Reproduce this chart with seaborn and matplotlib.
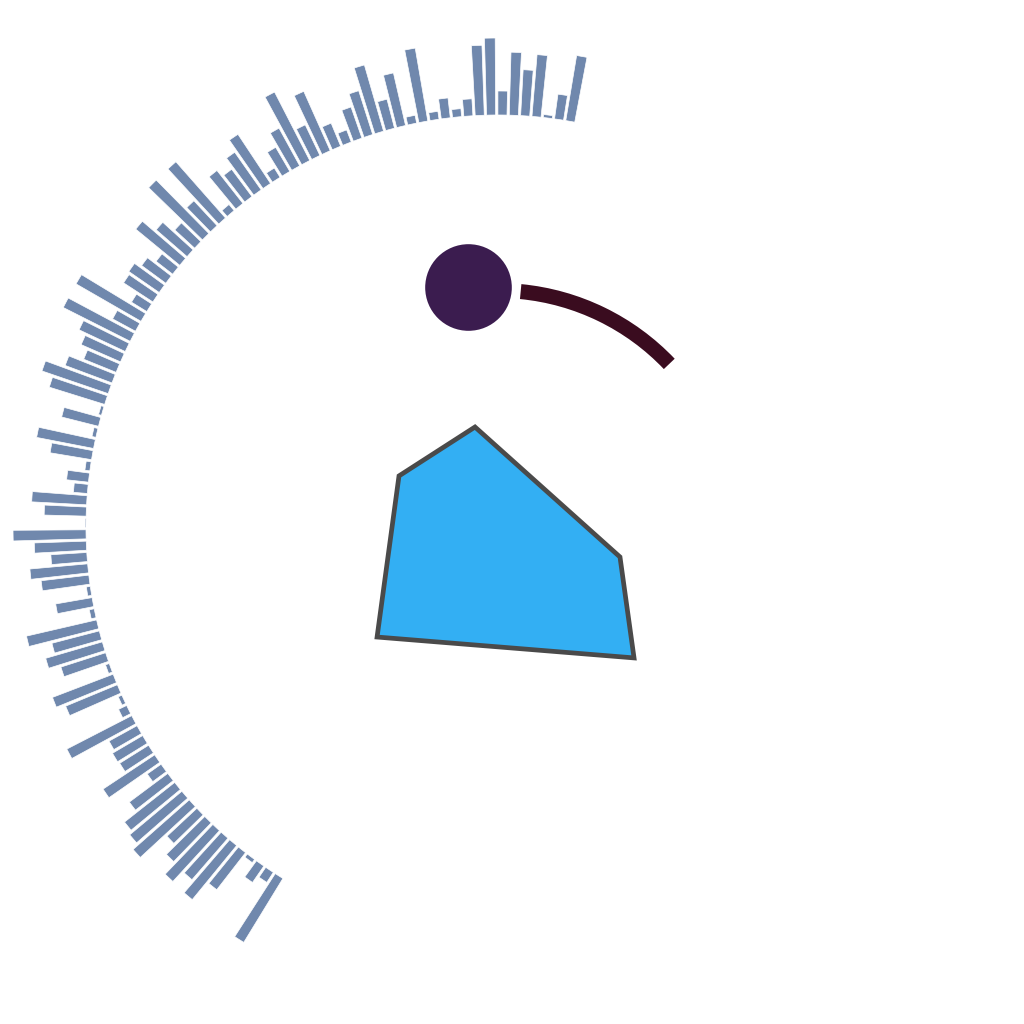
import numpy as np
import matplotlib
matplotlib.use("Agg")
import matplotlib.pyplot as plt
import seaborn as sns

# radial bars, read clockwise-to-counterclockwise from the top right
bar_heights = [66, 25, 3, 62, 46, 63, 24, 77, 70, 17,
               8, 20, 8, 74, 8, 54, 30, 69, 46, 33,
               13, 25, 65, 34, 77, 43, 28, 11, 59, 46,
               34, 42, 8, 75, 34, 75, 27, 41, 57, 21,
               30, 37, 35, 18, 75, 26, 75, 51, 43, 35,
               50, 70, 58, 3, 38, 4, 58, 42, 5, 22,
               14, 55, 42, 1, 73, 52, 36, 58, 48, 4,
               37, 5, 72, 49, 59, 47, 4, 65, 56, 4,
               9, 73, 32, 35, 34, 62, 17, 48, 64, 68,
               75, 41, 54, 69, 55, 70, 47, 4, 20, 12,
               75]
bar_base = 412
bar_start_deg = 10.1
bar_end_deg = -147.9

# single point
dot_theta_deg = [-7.1]
dot_r = [241.5]

# arc band
arc_start_deg = 5.5
arc_end_deg = 46.4
arc_inner = 229
arc_outer = 244

# polygon (theta in degrees, r)
poly_theta_deg = [-12.95, -62.7, -132.3, 133.9, 103.8]
poly_r = [102.6, 111.4, 163.5, 188.8, 125.6]

sns.set_theme(style="white")

fig = plt.figure(figsize=(10.24, 10.24), dpi=100)
R = 500
cx, cy = 498, 1024 - 527
ax = fig.add_axes([(cx - R) / 1024, (cy - R) / 1024, 2 * R / 1024, 2 * R / 1024],
                  projection="polar")
ax.set_theta_zero_location("N")
ax.set_theta_direction(-1)
ax.set_rlim(0, R)
ax.axis("off")

theta = np.deg2rad(np.linspace(bar_start_deg, bar_end_deg, len(bar_heights)))
step = abs(theta[1] - theta[0])
ax.bar(theta, bar_heights, width=step * 0.8, bottom=bar_base,
       color="#7088ad", edgecolor="white", linewidth=0.5, align="center")

# arc
a0, a1 = np.deg2rad(arc_start_deg), np.deg2rad(arc_end_deg)
ax.bar((a0 + a1) / 2, arc_outer - arc_inner, width=a1 - a0, bottom=arc_inner,
       color="#3a0c1f", linewidth=0, align="center")

# dot
ax.scatter(np.deg2rad(dot_theta_deg), dot_r, s=3890, color="#3b1c4f",
           linewidths=0, zorder=4)

# polygon
ax.fill(np.deg2rad(poly_theta_deg), poly_r, facecolor="#33aff3",
        edgecolor="#4a4a4a", linewidth=3.4, joinstyle="miter", zorder=3)

ax.set_rlim(0, R)
fig.savefig("out.png", dpi=100, facecolor="white")
